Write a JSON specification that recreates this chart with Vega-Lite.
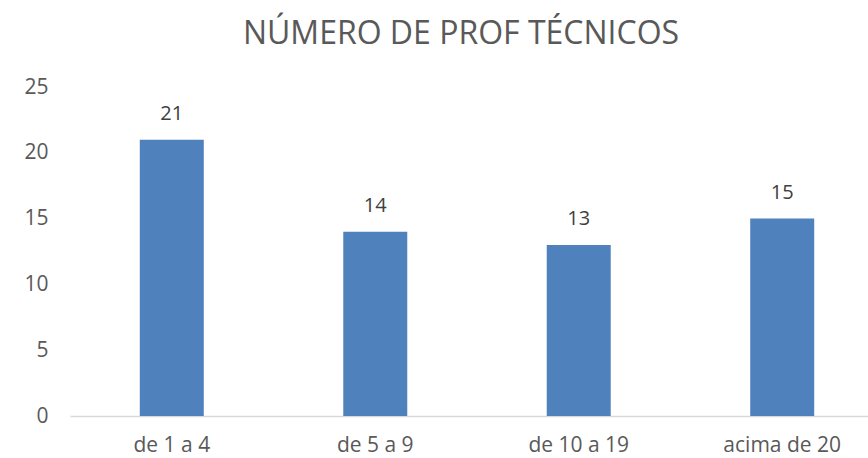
{
  "$schema": "https://vega.github.io/schema/vega-lite/v6.json",
  "autosize": "none",
  "width": 814,
  "height": 329,
  "padding": {"left": 70, "top": 87, "right": 0, "bottom": 42},
  "background": "white",
  "config": {"view": {"stroke": null}, "font": "Open Sans"},
  "title": {"text": "NÚMERO DE PROF TÉCNICOS", "fontSize": 32, "font": "Open Sans", "fontWeight": "normal", "color": "#595959", "offset": 25, "dx": -16, "anchor": "middle"},
  "data": {"values": [
    {"faixa": "de 1 a 4", "n": 21},
    {"faixa": "de 5 a 9", "n": 14},
    {"faixa": "de 10 a 19", "n": 13},
    {"faixa": "acima de 20", "n": 15}
  ]},
  "encoding": {
    "x": {"field": "faixa", "type": "nominal", "sort": null,
      "scale": {"paddingInner": 0.6855, "paddingOuter": 0.343},
      "axis": {"title": null, "labelAngle": 0, "labelFontSize": 21, "labelColor": "#595959", "labelPadding": 18, "ticks": false, "domainColor": "#d9d9d9", "domainWidth": 1.5, "grid": false}},
    "y": {"field": "n", "type": "quantitative",
      "scale": {"domain": [0, 25]},
      "axis": {"title": null, "values": [0, 5, 10, 15, 20, 25], "labelFontSize": 21, "labelColor": "#595959", "labelPadding": 22, "ticks": false, "domain": false, "grid": false}}
  },
  "layer": [
    {"mark": {"type": "bar", "color": "#4f81bd"}},
    {"mark": {"type": "text", "dy": -26, "fontSize": 20, "color": "#404040"}, "encoding": {"text": {"field": "n", "type": "quantitative"}}}
  ]
}
